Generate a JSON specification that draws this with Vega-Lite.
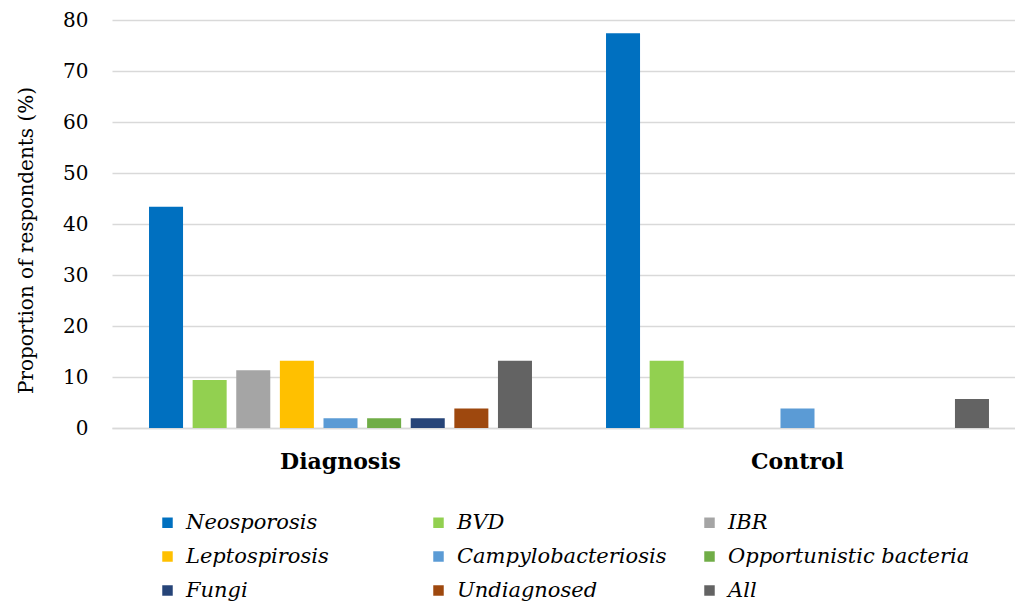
{
  "$schema": "https://vega.github.io/schema/vega-lite/v6.json",
  "width": 914,
  "height": 408,
  "autosize": {"type": "none"},
  "padding": {"left": 112, "top": 20, "right": 0, "bottom": 177},
  "background": "white",
  "config": {
    "view": {"stroke": null},
    "font": "DejaVu Serif"
  },
  "data": {
    "values": [
      {"group": "Diagnosis", "disease": "Neosporosis", "value": 43.4},
      {"group": "Diagnosis", "disease": "BVD", "value": 9.4},
      {"group": "Diagnosis", "disease": "IBR", "value": 11.3},
      {"group": "Diagnosis", "disease": "Leptospirosis", "value": 13.2},
      {"group": "Diagnosis", "disease": "Campylobacteriosis", "value": 1.9},
      {"group": "Diagnosis", "disease": "Opportunistic bacteria", "value": 1.9},
      {"group": "Diagnosis", "disease": "Fungi", "value": 1.9},
      {"group": "Diagnosis", "disease": "Undiagnosed", "value": 3.8},
      {"group": "Diagnosis", "disease": "All", "value": 13.2},
      {"group": "Control", "disease": "Neosporosis", "value": 77.4},
      {"group": "Control", "disease": "BVD", "value": 13.2},
      {"group": "Control", "disease": "IBR", "value": 0},
      {"group": "Control", "disease": "Leptospirosis", "value": 0},
      {"group": "Control", "disease": "Campylobacteriosis", "value": 3.8},
      {"group": "Control", "disease": "Opportunistic bacteria", "value": 0},
      {"group": "Control", "disease": "Fungi", "value": 0},
      {"group": "Control", "disease": "Undiagnosed", "value": 0},
      {"group": "Control", "disease": "All", "value": 5.7}
    ]
  },
  "mark": {"type": "bar"},
  "encoding": {
    "x": {
      "field": "group",
      "type": "nominal",
      "sort": ["Diagnosis", "Control"],
      "scale": {"paddingInner": 0.162, "paddingOuter": 0.081},
      "axis": {
        "title": null,
        "labelAngle": 0,
        "labelFont": "DejaVu Serif",
        "labelFontSize": 22,
        "labelFontWeight": "bold",
        "labelColor": "black",
        "labelPadding": 23,
        "ticks": false,
        "domainColor": "#d9d9d9",
        "domainWidth": 1.5
      }
    },
    "xOffset": {
      "field": "disease",
      "type": "nominal",
      "sort": ["Neosporosis", "BVD", "IBR", "Leptospirosis", "Campylobacteriosis", "Opportunistic bacteria", "Fungi", "Undiagnosed", "All"],
      "scale": {"paddingInner": 0.22, "paddingOuter": 0}
    },
    "y": {
      "field": "value",
      "type": "quantitative",
      "scale": {"domain": [0, 80]},
      "axis": {
        "title": "Proportion of respondents (%)",
        "titleFont": "DejaVu Serif",
        "titleFontSize": 20,
        "titleFontWeight": "normal",
        "titleColor": "black",
        "titlePadding": 26,
        "titleY": 220,
        "values": [0, 10, 20, 30, 40, 50, 60, 70, 80],
        "labelFont": "DejaVu Serif",
        "labelFontSize": 20,
        "labelColor": "black",
        "labelPadding": 24,
        "ticks": false,
        "domain": false,
        "gridColor": "#d9d9d9",
        "gridWidth": 1.5
      }
    },
    "color": {
      "field": "disease",
      "type": "nominal",
      "sort": ["Neosporosis", "BVD", "IBR", "Leptospirosis", "Campylobacteriosis", "Opportunistic bacteria", "Fungi", "Undiagnosed", "All"],
      "scale": {
        "domain": ["Neosporosis", "BVD", "IBR", "Leptospirosis", "Campylobacteriosis", "Opportunistic bacteria", "Fungi", "Undiagnosed", "All"],
        "range": ["#0070C0", "#92D050", "#A5A5A5", "#FFC000", "#5B9BD5", "#70AD47", "#264478", "#9E480E", "#636363"]
      },
      "legend": {
        "title": null,
        "orient": "none",
        "direction": "horizontal",
        "legendX": 45,
        "legendY": 492,
        "columns": 3,
        "gridAlign": "all",
        "columnPadding": 0,
        "rowPadding": 12,
        "symbolType": "square",
        "symbolSize": 110,
        "symbolStrokeWidth": 0,
        "symbolOpacity": 1,
        "symbolOffset": 0,
        "labelOffset": 8,
        "labelFont": "DejaVu Serif",
        "labelFontSize": 21,
        "labelFontStyle": "italic",
        "labelColor": "black",
        "labelLimit": 400
      }
    }
  }
}
